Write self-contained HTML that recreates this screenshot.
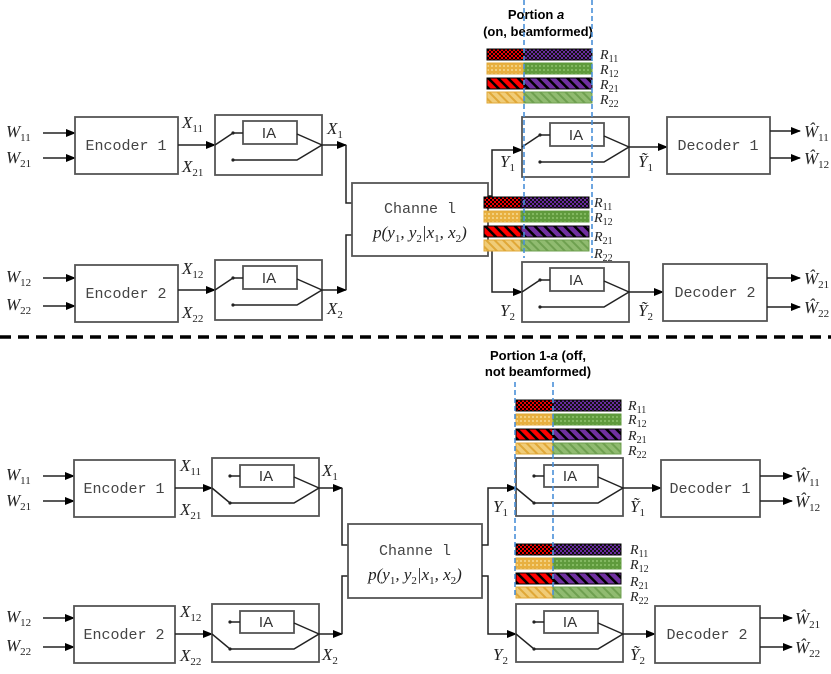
<!DOCTYPE html>
<html><head><meta charset="utf-8"><style>
html,body{margin:0;padding:0;background:#fff;}
svg{display:block;}
.b{fill:#fff;stroke:#555;stroke-width:1.8;}
.l{fill:none;stroke:#222;stroke-width:1.5;}
.m{font-family:"Liberation Mono",monospace;font-size:15px;fill:#444;}
.s{font-family:"Liberation Sans",sans-serif;font-size:15px;fill:#333;}
.v{font-family:"Liberation Serif",serif;font-style:italic;font-size:17px;fill:#222;}
tspan.sub{font-size:11px;font-style:normal;baseline-shift:-4px;}
.r{font-family:"Liberation Serif",serif;font-style:italic;font-size:14px;fill:#222;}
.r tspan.sub{font-size:10px;baseline-shift:-3px;}
.bt{font-family:"Liberation Sans",sans-serif;font-weight:bold;font-size:13px;fill:#000;}
.d{stroke:#4a90d9;stroke-width:1.6;stroke-dasharray:5,3;fill:none;}
</style></head><body>
<svg width="831" height="674" viewBox="0 0 831 674" xmlns="http://www.w3.org/2000/svg">
<defs>
<marker id="a" markerWidth="10" markerHeight="8" refX="9" refY="4" orient="auto" markerUnits="userSpaceOnUse"><path d="M0,0L10,4L0,8z" fill="#000"/></marker>
<pattern id="c1" width="4" height="4" patternUnits="userSpaceOnUse"><rect width="4" height="4" fill="#e00"/><rect width="2" height="2" fill="#000"/><rect x="2" y="2" width="2" height="2" fill="#000"/></pattern>
<pattern id="c2" width="4" height="4" patternUnits="userSpaceOnUse"><rect width="4" height="4" fill="#6a2aa0"/><rect width="2" height="2" fill="#111"/><rect x="2" y="2" width="2" height="2" fill="#111"/></pattern>
<pattern id="c3" width="4" height="4" patternUnits="userSpaceOnUse"><rect width="4" height="4" fill="#e8b040"/><rect width="2" height="2" fill="#f3d080"/></pattern>
<pattern id="c4" width="4" height="4" patternUnits="userSpaceOnUse"><rect width="4" height="4" fill="#5f9a3c"/><rect width="2" height="2" fill="#82b860"/></pattern>
<pattern id="s1" width="7" height="7" patternUnits="userSpaceOnUse" patternTransform="rotate(-45)"><rect width="7" height="7" fill="#f00"/><rect width="2.5" height="7" fill="#000"/></pattern>
<pattern id="s2" width="7" height="7" patternUnits="userSpaceOnUse" patternTransform="rotate(-45)"><rect width="7" height="7" fill="#7030a0"/><rect width="2.5" height="7" fill="#000"/></pattern>
<pattern id="s3" width="6" height="6" patternUnits="userSpaceOnUse" patternTransform="rotate(-45)"><rect width="6" height="6" fill="#f0cc78"/><rect width="2" height="6" fill="#e0a838"/></pattern>
<pattern id="s4" width="6" height="6" patternUnits="userSpaceOnUse" patternTransform="rotate(-45)"><rect width="6" height="6" fill="#90bb70"/><rect width="2" height="6" fill="#6fa050"/></pattern>
<g id="bars">
<rect x="0" y="0" width="37" height="11" fill="url(#c1)" stroke="#000" stroke-width="1"/>
<rect x="37" y="0" width="68" height="11" fill="url(#c2)" stroke="#000" stroke-width="1"/>
<rect x="0" y="14" width="37" height="11" fill="url(#c3)" stroke="#e0a838" stroke-width="1"/>
<rect x="37" y="14" width="68" height="11" fill="url(#c4)" stroke="#5f9a3c" stroke-width="1"/>
<rect x="0" y="29" width="37" height="11" fill="url(#s1)" stroke="#000" stroke-width="1"/>
<rect x="37" y="29" width="68" height="11" fill="url(#s2)" stroke="#000" stroke-width="1"/>
<rect x="0" y="43" width="37" height="11" fill="url(#s3)" stroke="#e0a838" stroke-width="1"/>
<rect x="37" y="43" width="68" height="11" fill="url(#s4)" stroke="#6fa050" stroke-width="1"/>
</g>
<g id="iaOn">
<rect class="b" x="0" y="-30" width="107" height="60"/>
<rect class="b" x="28" y="-24" width="54" height="23"/>
<path class="l" d="M0,0L18,-12L28,-12M82,-11L107,0M18,15L82,15L107,0"/>
<circle cx="18" cy="-12" r="1.6" fill="#222"/><circle cx="18" cy="15" r="1.6" fill="#222"/>
</g>
<g id="iaOff">
<rect class="b" x="0" y="-30" width="107" height="58"/>
<rect class="b" x="28" y="-23" width="54" height="22"/>
<path class="l" d="M18,-12L28,-12M82,-11L107,0M0,0L18,15L82,15L107,0"/>
<circle cx="18" cy="-12" r="1.6" fill="#222"/><circle cx="18" cy="15" r="1.6" fill="#222"/>
</g>
</defs>

<!-- ===== TOP ===== -->
<text class="bt" x="536" y="19" text-anchor="middle">Portion <tspan font-style="italic">a</tspan></text>
<text class="bt" x="538" y="36" text-anchor="middle">(on, beamformed)</text>
<use href="#bars" x="487" y="49"/>
<text class="r" x="600" y="59">R<tspan class="sub">11</tspan></text>
<text class="r" x="600" y="74">R<tspan class="sub">12</tspan></text>
<text class="r" x="600" y="89">R<tspan class="sub">21</tspan></text>
<text class="r" x="600" y="104">R<tspan class="sub">22</tspan></text>

<text class="v" x="6" y="137">W<tspan class="sub">11</tspan></text>
<text class="v" x="6" y="163">W<tspan class="sub">21</tspan></text>
<path class="l" d="M43,133L75,133" marker-end="url(#a)"/>
<path class="l" d="M43,158L75,158" marker-end="url(#a)"/>
<rect class="b" x="75" y="117" width="103" height="57"/>
<text class="m" x="126" y="150" text-anchor="middle">Encoder 1</text>
<path class="l" d="M178,145L215,145" marker-end="url(#a)"/>
<text class="v" x="182" y="128">X<tspan class="sub">11</tspan></text>
<text class="v" x="182" y="172">X<tspan class="sub">21</tspan></text>
<use href="#iaOn" x="215" y="145"/>
<text class="s" x="269" y="138" text-anchor="middle">IA</text>
<text class="v" x="327" y="134">X<tspan class="sub">1</tspan></text>
<path class="l" d="M322,145L346,145" marker-end="url(#a)"/>
<path class="l" d="M346,145L346,203L352,203"/>

<text class="v" x="6" y="282">W<tspan class="sub">12</tspan></text>
<text class="v" x="6" y="310">W<tspan class="sub">22</tspan></text>
<path class="l" d="M43,278L75,278" marker-end="url(#a)"/>
<path class="l" d="M43,306L75,306" marker-end="url(#a)"/>
<rect class="b" x="75" y="265" width="103" height="57"/>
<text class="m" x="126" y="298" text-anchor="middle">Encoder 2</text>
<path class="l" d="M178,290L215,290" marker-end="url(#a)"/>
<text class="v" x="182" y="274">X<tspan class="sub">12</tspan></text>
<text class="v" x="182" y="318">X<tspan class="sub">22</tspan></text>
<use href="#iaOn" x="215" y="290"/>
<text class="s" x="269" y="283" text-anchor="middle">IA</text>
<text class="v" x="327" y="314">X<tspan class="sub">2</tspan></text>
<path class="l" d="M322,290L346,290" marker-end="url(#a)"/>
<path class="l" d="M346,290L346,235L352,235"/>

<rect class="b" x="352" y="183" width="136" height="73"/>
<text class="m" x="420" y="213" text-anchor="middle">Channe l</text>
<text class="v" x="420" y="238" text-anchor="middle" font-size="15">p(y<tspan class="sub">1</tspan>, y<tspan class="sub">2</tspan>|x<tspan class="sub">1</tspan>, x<tspan class="sub">2</tspan>)</text>
<path class="l" d="M488,196L492,196L492,150L522,150" marker-end="url(#a)"/>
<path class="l" d="M488,245L492,245L492,292L522,292" marker-end="url(#a)"/>

<use href="#bars" x="484" y="197"/>
<text class="r" x="594" y="207">R<tspan class="sub">11</tspan></text>
<text class="r" x="594" y="222">R<tspan class="sub">12</tspan></text>
<text class="r" x="594" y="241">R<tspan class="sub">21</tspan></text>
<text class="r" x="594" y="258">R<tspan class="sub">22</tspan></text>

<use href="#iaOn" x="522" y="147"/>
<text class="s" x="576" y="140" text-anchor="middle">IA</text>
<text class="v" x="500" y="167">Y<tspan class="sub">1</tspan></text>
<text class="v" x="638" y="167">Ỹ<tspan class="sub">1</tspan></text>
<path class="l" d="M629,147L667,147" marker-end="url(#a)"/>
<rect class="b" x="667" y="117" width="103" height="57"/>
<text class="m" x="718" y="150" text-anchor="middle">Decoder 1</text>
<path class="l" d="M770,131L800,131" marker-end="url(#a)"/>
<path class="l" d="M770,158L800,158" marker-end="url(#a)"/>
<text class="v" x="804" y="137">Ŵ<tspan class="sub">11</tspan></text>
<text class="v" x="804" y="164">Ŵ<tspan class="sub">12</tspan></text>

<use href="#iaOn" x="522" y="292"/>
<text class="s" x="576" y="285" text-anchor="middle">IA</text>
<text class="v" x="500" y="316">Y<tspan class="sub">2</tspan></text>
<text class="v" x="638" y="316">Ỹ<tspan class="sub">2</tspan></text>
<path class="l" d="M629,292L663,292" marker-end="url(#a)"/>
<rect class="b" x="663" y="264" width="104" height="57"/>
<text class="m" x="715" y="297" text-anchor="middle">Decoder 2</text>
<path class="l" d="M767,278L800,278" marker-end="url(#a)"/>
<path class="l" d="M767,307L800,307" marker-end="url(#a)"/>
<text class="v" x="804" y="284">Ŵ<tspan class="sub">21</tspan></text>
<text class="v" x="804" y="313">Ŵ<tspan class="sub">22</tspan></text>

<path class="d" d="M524,0L524,258M592,0L592,258"/>

<path d="M0,337L831,337" stroke="#000" stroke-width="3.5" stroke-dasharray="11,7"/>

<!-- ===== BOTTOM ===== -->
<text class="bt" x="538" y="360" text-anchor="middle">Portion 1-<tspan font-style="italic">a</tspan> (off,</text>
<text class="bt" x="538" y="376" text-anchor="middle">not beamformed)</text>
<use href="#bars" x="516" y="400"/>
<text class="r" x="628" y="410">R<tspan class="sub">11</tspan></text>
<text class="r" x="628" y="424">R<tspan class="sub">12</tspan></text>
<text class="r" x="628" y="440">R<tspan class="sub">21</tspan></text>
<text class="r" x="628" y="455">R<tspan class="sub">22</tspan></text>

<text class="v" x="6" y="480">W<tspan class="sub">11</tspan></text>
<text class="v" x="6" y="506">W<tspan class="sub">21</tspan></text>
<path class="l" d="M43,476L74,476" marker-end="url(#a)"/>
<path class="l" d="M43,501L74,501" marker-end="url(#a)"/>
<rect class="b" x="74" y="460" width="101" height="57"/>
<text class="m" x="124" y="493" text-anchor="middle">Encoder 1</text>
<path class="l" d="M175,488L212,488" marker-end="url(#a)"/>
<text class="v" x="180" y="471">X<tspan class="sub">11</tspan></text>
<text class="v" x="180" y="515">X<tspan class="sub">21</tspan></text>
<use href="#iaOff" x="212" y="488"/>
<text class="s" x="266" y="481" text-anchor="middle">IA</text>
<text class="v" x="322" y="476">X<tspan class="sub">1</tspan></text>
<path class="l" d="M318,488L342,488" marker-end="url(#a)"/>
<path class="l" d="M342,488L342,545L348,545"/>

<text class="v" x="6" y="622">W<tspan class="sub">12</tspan></text>
<text class="v" x="6" y="651">W<tspan class="sub">22</tspan></text>
<path class="l" d="M43,618L74,618" marker-end="url(#a)"/>
<path class="l" d="M43,647L74,647" marker-end="url(#a)"/>
<rect class="b" x="74" y="606" width="101" height="57"/>
<text class="m" x="124" y="639" text-anchor="middle">Encoder 2</text>
<path class="l" d="M175,634L212,634" marker-end="url(#a)"/>
<text class="v" x="180" y="617">X<tspan class="sub">12</tspan></text>
<text class="v" x="180" y="661">X<tspan class="sub">22</tspan></text>
<use href="#iaOff" x="212" y="634"/>
<text class="s" x="266" y="627" text-anchor="middle">IA</text>
<text class="v" x="322" y="660">X<tspan class="sub">2</tspan></text>
<path class="l" d="M318,634L342,634" marker-end="url(#a)"/>
<path class="l" d="M342,634L342,576L348,576"/>

<rect class="b" x="348" y="524" width="134" height="74"/>
<text class="m" x="415" y="555" text-anchor="middle">Channe l</text>
<text class="v" x="415" y="580" text-anchor="middle" font-size="15">p(y<tspan class="sub">1</tspan>, y<tspan class="sub">2</tspan>|x<tspan class="sub">1</tspan>, x<tspan class="sub">2</tspan>)</text>
<path class="l" d="M482,545L488,545L488,488L516,488" marker-end="url(#a)"/>
<path class="l" d="M482,576L488,576L488,634L516,634" marker-end="url(#a)"/>

<use href="#bars" x="516" y="544"/>
<text class="r" x="630" y="554">R<tspan class="sub">11</tspan></text>
<text class="r" x="630" y="569">R<tspan class="sub">12</tspan></text>
<text class="r" x="630" y="586">R<tspan class="sub">21</tspan></text>
<text class="r" x="630" y="601">R<tspan class="sub">22</tspan></text>

<use href="#iaOff" x="516" y="488"/>
<text class="s" x="570" y="481" text-anchor="middle">IA</text>
<text class="v" x="493" y="512">Y<tspan class="sub">1</tspan></text>
<text class="v" x="630" y="512">Ỹ<tspan class="sub">1</tspan></text>
<path class="l" d="M622,488L661,488" marker-end="url(#a)"/>
<rect class="b" x="661" y="460" width="99" height="57"/>
<text class="m" x="710" y="493" text-anchor="middle">Decoder 1</text>
<path class="l" d="M760,476L792,476" marker-end="url(#a)"/>
<path class="l" d="M760,501L792,501" marker-end="url(#a)"/>
<text class="v" x="795" y="482">Ŵ<tspan class="sub">11</tspan></text>
<text class="v" x="795" y="507">Ŵ<tspan class="sub">12</tspan></text>

<use href="#iaOff" x="516" y="634"/>
<text class="s" x="570" y="627" text-anchor="middle">IA</text>
<text class="v" x="493" y="660">Y<tspan class="sub">2</tspan></text>
<text class="v" x="630" y="660">Ỹ<tspan class="sub">2</tspan></text>
<path class="l" d="M622,634L655,634" marker-end="url(#a)"/>
<rect class="b" x="655" y="606" width="105" height="57"/>
<text class="m" x="707" y="639" text-anchor="middle">Decoder 2</text>
<path class="l" d="M760,618L792,618" marker-end="url(#a)"/>
<path class="l" d="M760,647L792,647" marker-end="url(#a)"/>
<text class="v" x="795" y="624">Ŵ<tspan class="sub">21</tspan></text>
<text class="v" x="795" y="653">Ŵ<tspan class="sub">22</tspan></text>

<path class="d" d="M515,382L515,598M553,382L553,598"/>
</svg>
</body></html>
